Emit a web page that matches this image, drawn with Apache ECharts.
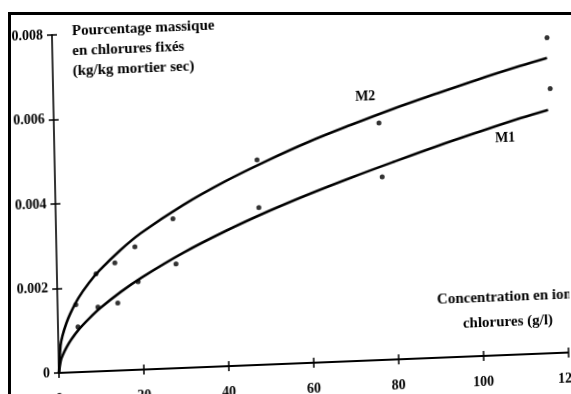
<!DOCTYPE html>
<html>
<head>
<meta charset="utf-8">
<script src="https://cdn.jsdelivr.net/npm/echarts@6/dist/echarts.min.js"></script>
<style>
  html, body { margin: 0; padding: 0; background: #fff; }
  #wrap { position: relative; width: 571px; height: 394px; overflow: hidden; background: #fff; }
  #chart { position: absolute; left: 0; top: 0; width: 571px; height: 440px;
           transform-origin: 59px 373px; transform: matrix(1, -0.04, 0.0207, 1, 0, 0); }
  .edge { position: absolute; background: #000; }
</style>
</head>
<body>
<div id="wrap">
  <div id="chart"></div>
  <div class="edge" style="left:8px; top:12px; width:563px; height:3px;"></div>
  <div class="edge" style="left:8px; top:12px; width:3px; height:382px;"></div>
</div>
<script>
// Fixed chloride content vs. chloride concentration, mortars M1 and M2
const xTickLabels = ['0', '20', '40', '60', '80', '100', '120'];
const yTickLabels = ['0', '0.002', '0.004', '0.006', '0.008'];

// measured points
const m2PointX = [4.3, 9.2, 13.7, 18.5, 27.6, 47.7, 76.6, 116.6];
const m2PointY = [0.0016, 0.00231, 0.00255, 0.00291, 0.00354, 0.00485, 0.00561, 0.00747];
const m1PointX = [4.7, 9.5, 14.2, 19.1, 28.1, 47.9, 77.1, 117.1];
const m1PointY = [0.00107, 0.00152, 0.0016, 0.00208, 0.00247, 0.00372, 0.00433, 0.00626];

// fitted curves
const curveX = [0, 0.5, 1, 2, 3, 5, 7.5, 10, 15, 20, 30, 40, 50, 60, 70, 80, 90, 100, 110, 116.5];
const m2Curve = [0, 0.00064, 0.00087, 0.00117, 0.0014, 0.00176, 0.0021, 0.00238, 0.00284, 0.00323,
                 0.00385, 0.00437, 0.00482, 0.00523, 0.00559, 0.00593, 0.00624, 0.00654, 0.00682, 0.00699];
const m1Curve = [0, 0.00029, 0.00042, 0.00061, 0.00077, 0.00102, 0.00127, 0.00149, 0.00186, 0.00218,
                 0.00273, 0.0032, 0.00362, 0.004, 0.00435, 0.00468, 0.005, 0.0053, 0.00559, 0.00576];

const pairs = (xs, ys) => xs.map((x, i) => [x, ys[i]]);
const FONT = '"Liberation Serif", "DejaVu Serif", serif';

const chart = echarts.init(document.getElementById('chart'), null, { renderer: 'canvas' });

const labelText = { fontFamily: FONT, fontWeight: 'bold', fontSize: 14, color: '#000' };

chart.setOption({
  animation: false,
  backgroundColor: 'transparent',
  grid: { left: 59, right: 2.6, top: 35, bottom: 67, containLabel: false, outerBoundsMode: 'none' },
  xAxis: [
    {
      type: 'value', min: 0, max: 120, interval: 20,
      axisLine: { lineStyle: { color: '#000', width: 2 } },
      axisTick: { length: 5, lineStyle: { color: '#000', width: 1.5 } },
      axisLabel: Object.assign({ margin: 19,
        formatter: v => xTickLabels[Math.round(v / 20)] }, labelText),
      splitLine: { show: false }
    },
    {
      type: 'value', min: 0, max: 120, interval: 20, position: 'bottom',
      axisLine: { show: false },
      axisTick: { inside: true, length: 5, lineStyle: { color: '#000', width: 1.5 } },
      axisLabel: { show: false }, splitLine: { show: false }
    }
  ],
  yAxis: [
    {
      type: 'value', min: 0, max: 0.008, interval: 0.002,
      axisLine: { lineStyle: { color: '#000', width: 1.6 } },
      axisTick: { length: 5, lineStyle: { color: '#000', width: 1.5 } },
      axisLabel: Object.assign({ margin: 9,
        formatter: v => yTickLabels[Math.round(v / 0.002)] }, labelText),
      splitLine: { show: false }
    },
    {
      type: 'value', min: 0, max: 0.008, interval: 0.002, position: 'left',
      axisLine: { show: false },
      axisTick: { inside: true, length: 5, lineStyle: { color: '#000', width: 1.5 } },
      axisLabel: { show: false }, splitLine: { show: false }
    }
  ],
  graphic: [
    {
      type: 'text', left: 79, top: 22,
      style: {
        text: 'Pourcentage massique\nen chlorures fixés\n(kg/kg mortier sec)',
        font: 'bold 15px ' + FONT, lineHeight: 20, fill: '#000'
      }
    },
    {
      type: 'text', x: 509, y: 328,
      style: {
        text: 'Concentration en ions\nchlorures (g/l)',
        font: 'bold 15px ' + FONT, lineHeight: 25, fill: '#000',
        textAlign: 'center', textVerticalAlign: 'middle'
      }
    },
    {
      type: 'text', x: 371, y: 109,
      style: { text: 'M2', font: 'bold 14px ' + FONT, fill: '#000', textAlign: 'center', textVerticalAlign: 'middle' }
    },
    {
      type: 'text', x: 510, y: 156,
      style: { text: 'M1', font: 'bold 14px ' + FONT, fill: '#000', textAlign: 'center', textVerticalAlign: 'middle' }
    }
  ],
  series: [
    {
      name: 'M2', type: 'line', data: pairs(curveX, m2Curve),
      showSymbol: false, smooth: 0.35,
      lineStyle: { color: '#000', width: 2.6 }
    },
    {
      name: 'M1', type: 'line', data: pairs(curveX, m1Curve),
      showSymbol: false, smooth: 0.35,
      lineStyle: { color: '#000', width: 2.6 }
    },
    {
      name: 'M2 mesures', type: 'scatter', data: pairs(m2PointX, m2PointY),
      symbol: 'circle', symbolSize: 5, itemStyle: { color: '#000' }
    },
    {
      name: 'M1 mesures', type: 'scatter', data: pairs(m1PointX, m1PointY),
      symbol: 'circle', symbolSize: 5, itemStyle: { color: '#000' }
    }
  ]
});
</script>
</body>
</html>
